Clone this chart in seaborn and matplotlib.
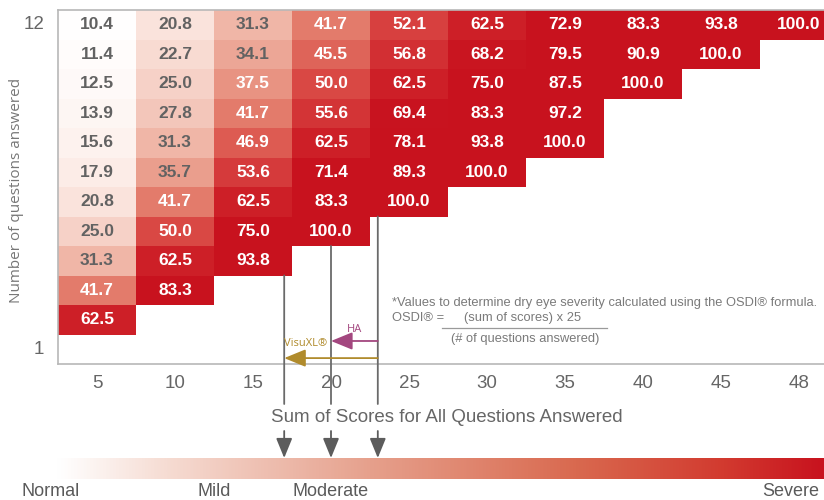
import numpy as np
import pandas as pd
import seaborn as sns
import matplotlib.pyplot as plt
from matplotlib.colors import LinearSegmentedColormap

# columns = sum of scores, rows = number of questions answered (12 on top)
sum_scores = [5, 10, 15, 20, 25, 30, 35, 40, 45, 48]
questions = [12, 11, 10, 9, 8, 7, 6, 5, 4, 3, 2, 1]

osdi_12 = [10.4, 20.8, 31.3, 41.7, 52.1, 62.5, 72.9, 83.3, 93.8, 100.0]
osdi_11 = [11.4, 22.7, 34.1, 45.5, 56.8, 68.2, 79.5, 90.9, 100.0]
osdi_10 = [12.5, 25.0, 37.5, 50.0, 62.5, 75.0, 87.5, 100.0]
osdi_9 = [13.9, 27.8, 41.7, 55.6, 69.4, 83.3, 97.2]
osdi_8 = [15.6, 31.3, 46.9, 62.5, 78.1, 93.8, 100.0]
osdi_7 = [17.9, 35.7, 53.6, 71.4, 89.3, 100.0]
osdi_6 = [20.8, 41.7, 62.5, 83.3, 100.0]
osdi_5 = [25.0, 50.0, 75.0, 100.0]
osdi_4 = [31.3, 62.5, 93.8]
osdi_3 = [41.7, 83.3]
osdi_2 = [62.5]
osdi_1 = []

# where the products sit on the sum-of-scores axis
baseline_score = 23
product_names = ["HA", "VisuXL®"]
product_scores = [20, 17]
product_colors = ["#a3477f", "#b08b2c"]

severity_labels = ["Normal", "Mild", "Moderate", "Severe"]

W, H = 824, 500


def fx(px):
    return px / W


def fy(py):
    return 1 - py / H


rows = [osdi_12, osdi_11, osdi_10, osdi_9, osdi_8, osdi_7,
        osdi_6, osdi_5, osdi_4, osdi_3, osdi_2, osdi_1]
matrix = [r + [np.nan] * (len(sum_scores) - len(r)) for r in rows]
df = pd.DataFrame(matrix, index=questions, columns=sum_scores)

cell_cmap = LinearSegmentedColormap.from_list(
    "osdi", ["#ffffff", "#fbe7e0", "#f1bcae", "#e58673", "#d94844", "#cf242b", "#c8121e"])
bar_cmap = LinearSegmentedColormap.from_list(
    "sev", [(0, "#ffffff"), (0.07, "#ffffff"), (0.2, "#f6dcd3"), (0.45, "#e6a08c"),
            (0.7, "#d9694f"), (0.88, "#d23a2f"), (1, "#c8121e")])

fig = plt.figure(figsize=(W / 100, H / 100), dpi=100)
ax = fig.add_axes([fx(58), fy(364), fx(824 - 58), (364 - 10) / H])

sns.heatmap(df, ax=ax, cmap=cell_cmap, vmin=10, vmax=70, cbar=False,
            annot=True, fmt=".1f",
            annot_kws={"fontsize": 12.5, "fontweight": "bold", "family": "Liberation Sans"})

# seaborn picks dark/white text; make the dark one grey like the original
for t in ax.texts:
    if t.get_color() != "w":
        t.set_color("#626262")

ax.set_xlim(0, (824 - 58) / 78)
ax.set_ylim(len(questions), 0)
for s in ["top", "left", "bottom"]:
    ax.spines[s].set_visible(True)
    ax.spines[s].set_color("#b8b8b8")
    ax.spines[s].set_linewidth(1.2)
ax.spines["right"].set_visible(False)

ax.set_xticks(np.arange(len(sum_scores)) + 0.5)
ax.set_xticklabels([str(s) for s in sum_scores], fontsize=13.5, color="#666666",
                   family="Liberation Sans")
ax.set_yticks([0.5, len(questions) - 0.5])
ax.set_yticklabels([str(questions[0]), str(questions[-1])], rotation=0, fontsize=13.5,
                   color="#666666", family="Liberation Sans")
ax.tick_params(axis="x", length=0, pad=8)
ax.tick_params(axis="y", length=0, pad=10)

ax.set_xlabel("Sum of Scores for All Questions Answered", fontsize=13.5,
              color="#666666", family="Liberation Sans", va="center")
ax.xaxis.set_label_coords((447 - 58) / 766, (364 - 418) / 354)
ax.set_ylabel("Number of questions answered", fontsize=11, color="#777777",
              family="Open Sans", va="center")
ax.yaxis.set_label_coords((17 - 58) / 766, (364 - 190) / 354)

col_pos = np.arange(len(sum_scores)) + 0.5


def score_x(score):
    return np.interp(score, sum_scores, col_pos)


# vertical guide lines from the end of the red steps down to the severity bar
for score in [product_scores[1], product_scores[0], baseline_score]:
    x = score_x(score)
    filled = df.iloc[:, int(x)].notna().sum()
    ax.annotate("", xy=(x, filled), xycoords="data",
                xytext=(x, H - 404), textcoords=("data", "figure pixels"),
                arrowprops=dict(arrowstyle="-", color="#6a6a6a", lw=1.3,
                                shrinkA=0, shrinkB=0),
                annotation_clip=False)
    ax.annotate("", xy=(x, H - 458), xycoords=("data", "figure pixels"),
                xytext=(x, H - 431), textcoords=("data", "figure pixels"),
                arrowprops=dict(arrowstyle="-|>,head_length=1.1,head_width=0.45",
                                color="#5c5c5c", lw=1.3, mutation_scale=11,
                                shrinkA=0, shrinkB=0),
                annotation_clip=False)

# product arrows
arrow_y = [11.22, 11.8]
label_xy = [(355, 329), (306, 343)]
for name, score, color, y, (lx, ly) in zip(product_names, product_scores,
                                           product_colors, arrow_y, label_xy):
    ax.annotate("", xy=(score_x(score), y), xytext=(score_x(baseline_score), y),
                arrowprops=dict(arrowstyle="-|>,head_length=1.1,head_width=0.45",
                                color=color, lw=1.3, mutation_scale=12,
                                shrinkA=0, shrinkB=0))
    fig.text(fx(lx), fy(ly), name, color=color, fontsize=8, ha="center",
             va="center", family="Open Sans")

# formula note
note_kw = dict(fontsize=9.3, color="#7a7a7a", family="Liberation Sans", va="center")
fig.text(fx(392), fy(303), "*Values to determine dry eye severity calculated using the OSDI® formula.",
         ha="left", **note_kw)
fig.text(fx(392), fy(318), "OSDI® =", ha="left", **note_kw)
fig.text(fx(523), fy(318), "(sum of scores) x 25", ha="center", **note_kw)
fig.text(fx(525), fy(339), "(# of questions answered)", ha="center", **note_kw)
fig.add_artist(plt.Line2D([fx(442), fx(607)], [fy(328), fy(328)],
                          color="#9a9a9a", lw=0.9))

# severity bar
bar_ax = fig.add_axes([0, fy(479), 1, (479 - 458) / H])
bar_ax.imshow(np.linspace(0, 1, 512)[None, :], cmap=bar_cmap, aspect="auto")
bar_ax.set_axis_off()

for label, px in zip(severity_labels, [51, 214, 331, 791]):
    fig.text(fx(px), fy(491), label, fontsize=13, color="#5a5a5a", ha="center",
             va="center", family="Liberation Sans")

fig.savefig("out.png", dpi=100)
